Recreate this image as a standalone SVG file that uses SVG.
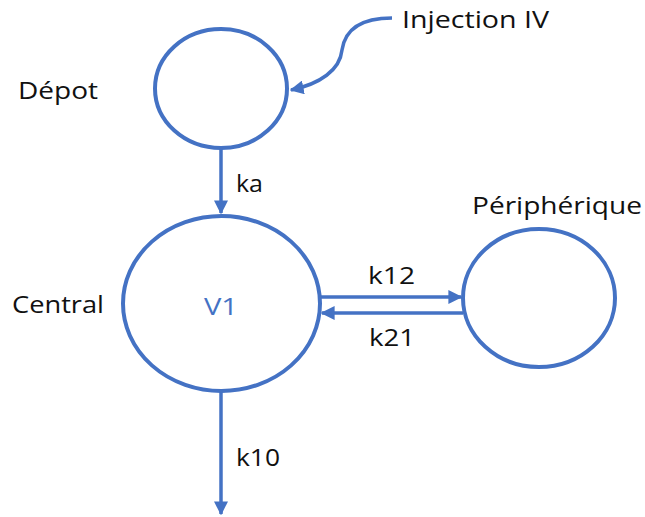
<svg xmlns="http://www.w3.org/2000/svg" width="645" height="517" viewBox="0 0 645 517">
<style>
.n{fill:#fff;stroke:#4472C4;stroke-width:4}
.c{fill:none;stroke:#4472C4;stroke-width:3.5}
.t{font-family:"Open Sans","Noto Sans",sans-serif;font-size:23px;fill:#111}
.v{font-family:"Open Sans","Noto Sans",sans-serif;font-size:23px;fill:#4472C4}
</style>
<defs>
<marker id="ah" viewBox="0 0 10 10" refX="9" refY="5" markerWidth="4" markerHeight="4" orient="auto" markerUnits="strokeWidth">
<path d="M0,0 L10,5 L0,10 z" fill="#4472C4"/>
</marker>
</defs>
<g id="connectors">
<path class="c" d="M392,18 C360,18 345,30 342,50 C340,70 320,84 291,90" marker-end="url(#ah)"/>
<line class="c" x1="221" y1="148" x2="221" y2="213" marker-end="url(#ah)"/>
<line class="c" x1="320" y1="297" x2="461" y2="297" marker-end="url(#ah)"/>
<line class="c" x1="463" y1="313" x2="322" y2="313" marker-end="url(#ah)"/>
<line class="c" x1="221" y1="391" x2="221" y2="514" marker-end="url(#ah)"/>
<text class="t" x="236" y="192" textLength="27" lengthAdjust="spacingAndGlyphs">ka</text>
<text class="t" x="368" y="284" textLength="47" lengthAdjust="spacingAndGlyphs">k12</text>
<text class="t" x="369" y="346" textLength="46" lengthAdjust="spacingAndGlyphs">k21</text>
<text class="t" x="236" y="466" textLength="44" lengthAdjust="spacingAndGlyphs">k10</text>
<text class="t" x="402" y="28" textLength="147" lengthAdjust="spacingAndGlyphs">Injection IV</text>
</g>
<g id="depot">
<ellipse class="n" cx="221" cy="88.5" rx="66" ry="59.5"/>
<text class="t" x="18" y="99" textLength="80" lengthAdjust="spacingAndGlyphs">Dépot</text>
</g>
<g id="central">
<ellipse class="n" cx="221.5" cy="303.5" rx="98.5" ry="87.5"/>
<text class="v" x="204" y="315" textLength="34" lengthAdjust="spacingAndGlyphs">V1</text>
<text class="t" x="12" y="313" textLength="92" lengthAdjust="spacingAndGlyphs">Central</text>
</g>
<g id="peripherique">
<ellipse class="n" cx="539" cy="298" rx="76" ry="69"/>
<text class="t" x="472" y="214" textLength="170" lengthAdjust="spacingAndGlyphs">Périphérique</text>
</g>
</svg>
